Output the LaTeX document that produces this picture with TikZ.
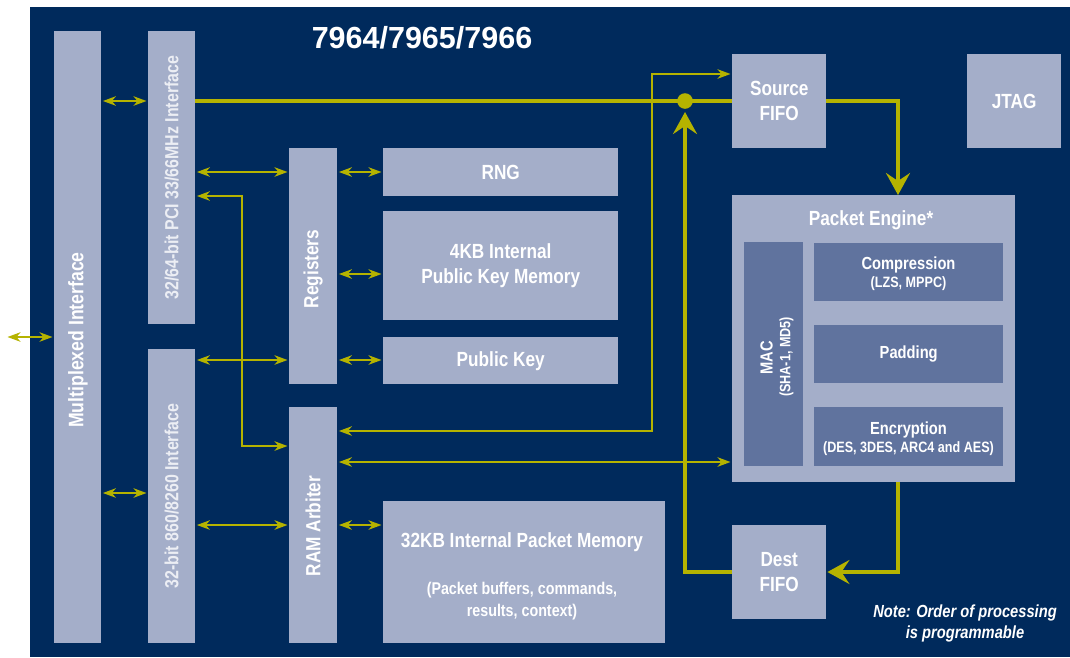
\documentclass[tikz,border=0pt]{standalone}
\usepackage{fontspec}
\setmainfont{Liberation Sans}[FakeStretch=0.84]
\newfontfamily\titlefont{Liberation Sans}
\usetikzlibrary{arrows.meta}
\definecolor{navy}{HTML}{002A5C}
\definecolor{lightbox}{HTML}{A4AEC9}
\definecolor{innerbox}{HTML}{60739E}
\definecolor{olive}{HTML}{B5B300}
\definecolor{softwhite}{HTML}{ECEEF4}
\newcommand\fsz[2]{\fontsize{#1}{#2}\selectfont}
\begin{document}
\begin{tikzpicture}[x=1pt,y=-1pt,
  box/.style={fill=lightbox, draw=none, anchor=north west, inner sep=0pt, text=white,
              font=\bfseries\fsz{20.5}{25}, align=center},
  inbox/.style={box, fill=innerbox},
  lbl/.style={text=white, font=\bfseries\fsz{20.5}{25}, align=center, inner sep=0pt},
  thinarr/.style={draw=olive, line width=1.7pt, >={Stealth[length=13pt,width=9.5pt,inset=4pt]}, <->,
                  shorten <=1.5pt, shorten >=1.5pt},
  thickline/.style={draw=olive, line width=4pt},
  thickarr/.style={thickline, -{Stealth[length=22pt,width=24pt,inset=8pt]}}
]
\useasboundingbox (0,0) rectangle (1070,657);
\fill[navy] (30,7) rectangle (1070,657);

% title
\node[text=white, font=\titlefont\bfseries\fsz{30.5}{32}, inner sep=0pt] (title) at (422,38) {7964/7965/7966};

% left column boxes
\node[box, minimum width=47pt, minimum height=612pt] (mux) at (54,31) {};
\node[box, minimum width=47pt, minimum height=293pt] (pci) at (148,31) {};
\node[box, minimum width=47pt, minimum height=294pt] (bus) at (148,349) {};
\node[box, minimum width=48pt, minimum height=236pt] (reg) at (289,148) {};
\node[box, minimum width=48pt, minimum height=236pt] (ram) at (289,407) {};

\node[lbl, rotate=90, font=\bfseries\fsz{21}{22}] (muxt) at (78,340) {Multiplexed Interface};
\node[lbl, rotate=90, text=softwhite, font=\bfseries\fsz{19}{20}] (pcit) at (pci.center) {32/64-bit PCI 33/66MHz Interface};
\node[lbl, rotate=90, text=softwhite, font=\bfseries\fsz{19}{20}] (bust) at (bus.center) {32-bit 860/8260 Interface};
\node[lbl, rotate=90] (regt) at (313,269) {Registers};
\node[lbl, rotate=90] (ramt) at (313,526) {RAM Arbiter};

% middle boxes
\node[box, minimum width=235pt, minimum height=48pt] (rng) at (383,148) {RNG};
\node[box, minimum width=235pt, minimum height=109pt] (pkm) at (383,211) {4KB Internal\\Public Key Memory};
\node[box, minimum width=235pt, minimum height=47pt] (pub) at (383,337) {Public Key};
\node[box, minimum width=282pt, minimum height=142pt] (mem) at (383,501) {};
\node[lbl] (memt1) at (522,542) {32KB Internal Packet Memory};
\node[lbl, font=\bfseries\fsz{17}{22}] (memt2) at (522,601) {(Packet buffers, commands,\\results, context)};

% right boxes
\node[box, minimum width=94pt, minimum height=94pt] (src) at (732,54) {Source\\FIFO};
\node[box, minimum width=94pt, minimum height=94pt] (jtag) at (967,54) {JTAG};
\node[box, minimum width=94pt, minimum height=94pt] (dest) at (732,525) {Dest\\FIFO};
\node[box, minimum width=283pt, minimum height=287pt] (pe) at (732,195) {};
\node[lbl] (pet) at (871,220) {Packet Engine*};
\node[inbox, minimum width=59pt, minimum height=224pt] (mac) at (744,242) {};
\node[inbox, minimum width=189pt, minimum height=58pt] (comp) at (814,243) {};
\node[inbox, minimum width=189pt, minimum height=58pt, font=\bfseries\fsz{17.5}{20}] (pad) at (814,325) {Padding};
\node[inbox, minimum width=189pt, minimum height=59pt] (enc) at (814,407) {};
\node[lbl, font=\bfseries\fsz{17.5}{20}] (compt1) at (908.5,265) {Compression};
\node[lbl, font=\bfseries\fsz{15}{17}] (compt2) at (908.5,284) {(LZS, MPPC)};
\node[lbl, font=\bfseries\fsz{17.5}{20}] (enct1) at (908.5,430) {Encryption};
\node[lbl, font=\bfseries\fsz{15}{17}] (enct2) at (908.5,449) {(DES, 3DES, ARC4 and AES)};
\node[lbl, rotate=90, font=\bfseries\fsz{17.5}{20}] (mact1) at (766.5,358) {MAC};
\node[lbl, rotate=90, font=\bfseries\fsz{15}{17}] (mact2) at (786.5,357) {(SHA-1, MD5)};

\node[lbl, font=\bfseries\itshape\fsz{17.5}{21}] (note) at (965,623) {Note: Order of processing\\is programmable};

% helper coordinates
\coordinate (r74) at (0,74);
\coordinate (r101) at (0,101);
\coordinate (r172) at (0,172);
\coordinate (r196) at (0,196);
\coordinate (r274) at (0,274);
\coordinate (r337) at (0,337);
\coordinate (r360) at (0,360);
\coordinate (r431) at (0,431);
\coordinate (r446) at (0,446);
\coordinate (r462) at (0,462);
\coordinate (r493) at (0,493);
\coordinate (r525) at (0,525);
\coordinate (r572) at (0,572);
\coordinate (c242) at (242,0);
\coordinate (c652) at (652,0);
\coordinate (c898) at (898,0);
\coordinate (ext) at (6,337);
\coordinate (junc) at (685,101);

% thin connectors
\draw[thinarr] (mux.east |- r101) -- (pci.west |- r101);
\draw[thinarr] (mux.east |- r493) -- (bus.west |- r493);
\draw[thinarr] (ext) -- (mux.west |- r337);
\draw[thinarr] (pci.east |- r172) -- (reg.west |- r172);
\draw[thinarr] (reg.east |- r172) -- (rng.west |- r172);
\draw[thinarr] (reg.east |- r274) -- (pkm.west |- r274);
\draw[thinarr] (reg.east |- r360) -- (pub.west |- r360);
\draw[thinarr] (bus.east |- r360) -- (reg.west |- r360);
\draw[thinarr] (pci.east |- r196) -| (c242 |- r446) -- (ram.west |- r446);
\draw[thinarr] (bus.east |- r525) -- (ram.west |- r525);
\draw[thinarr] (ram.east |- r525) -- (mem.west |- r525);
\draw[thinarr] (ram.east |- r431) -| (c652 |- r74) -- (src.west |- r74);
\draw[thinarr] (ram.east |- r462) -- (pe.west |- r462);

% thick data path
\draw[thickline] (pci.east |- r101) -- (src.west |- r101);
\draw[thickarr] (src.east |- r101) -| (c898 |- pe.north);
\draw[thickarr, shorten >=1pt] (c898 |- pe.south) |- (dest.east |- r572);
\draw[thickarr, shorten >=11pt] (dest.west |- r572) -| (junc);
\fill[olive] (junc) circle (7.8pt);
\end{tikzpicture}
\end{document}
